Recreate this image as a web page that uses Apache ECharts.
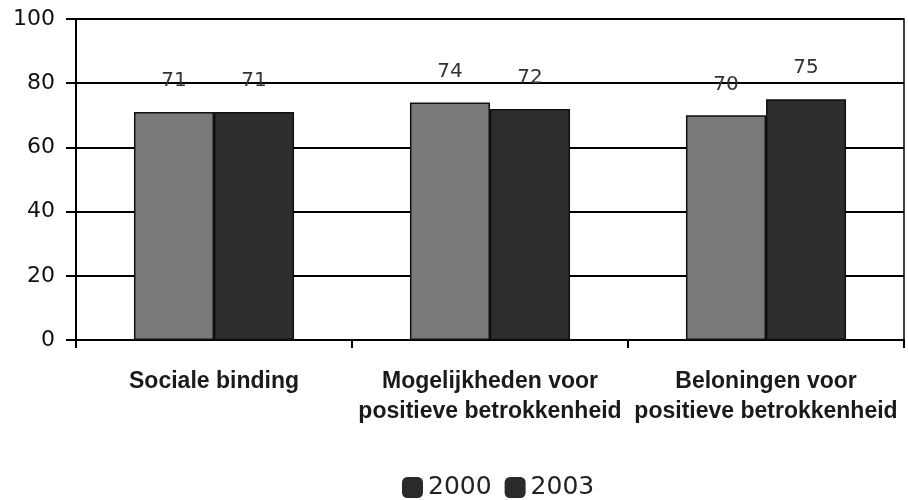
<!DOCTYPE html>
<html><head><meta charset="utf-8">
<script src="https://cdn.jsdelivr.net/npm/echarts@6/dist/echarts.min.js"></script>
<style>html,body{margin:0;padding:0;background:#fff}#c{width:908px;height:500px}</style>
</head><body><div id="c"></div>
<script>
var categories = ['Sociale binding', 'Mogelijkheden voor\npositieve betrokkenheid', 'Beloningen voor\npositieve betrokkenheid'];
var values2000 = [71, 74, 70];
var values2003 = [71, 72, 75];
var seriesNames = ['2000', '2003'];
var yTicks = [0, 20, 40, 60, 80, 100];

var chart = echarts.init(document.getElementById('c'), null, {renderer: 'canvas'});
var labelStyle = {show: true, position: 'top', distance: 21, fontFamily: 'DejaVu Sans', fontSize: 20, color: '#333'};
chart.setOption({
  animation: false,
  backgroundColor: '#fff',
  grid: {left: 76, right: 4, top: 19, bottom: 160, show: true, borderColor: '#000', borderWidth: 1.5, backgroundColor: 'transparent'},
  legend: {
    left: 397, top: 470, itemWidth: 21, itemHeight: 21, itemGap: 13, icon: 'roundRect',
    textStyle: {fontFamily: 'DejaVu Sans', fontSize: 25, color: '#222'},
    data: [{name: seriesNames[0], itemStyle: {color: '#2a2a2a', borderWidth: 0}}, {name: seriesNames[1], itemStyle: {color: '#2a2a2a', borderWidth: 0}}]
  },
  xAxis: {
    type: 'category', data: categories,
    axisLine: {lineStyle: {color: '#000', width: 2}},
    axisTick: {show: true, length: 8, lineStyle: {color: '#000', width: 2}},
    axisLabel: {margin: 27, fontFamily: 'Liberation Sans', fontWeight: 'bold', fontSize: 23, color: '#1a1a1a', lineHeight: 30, interval: 0}
  },
  yAxis: {
    type: 'value', min: yTicks[0], max: yTicks[yTicks.length - 1], interval: 20,
    axisLine: {show: true, lineStyle: {color: '#000', width: 2}},
    axisTick: {show: true, length: 10, lineStyle: {color: '#000', width: 2}},
    axisLabel: {margin: 21, fontFamily: 'DejaVu Sans', fontWeight: 500, fontSize: 22, color: '#111'},
    splitLine: {show: true, lineStyle: {color: '#000', width: 2}}
  },
  series: [
    {name: seriesNames[0], type: 'bar', data: values2000, barGap: '0%', barCategoryGap: '42%',
     itemStyle: {color: '#7a7a7a', borderColor: '#111', borderWidth: 1.5}, label: labelStyle},
    {name: seriesNames[1], type: 'bar', data: values2003,
     itemStyle: {color: '#2e2e2e', borderColor: '#111', borderWidth: 1.5}, label: labelStyle}
  ]
});
</script></body></html>
